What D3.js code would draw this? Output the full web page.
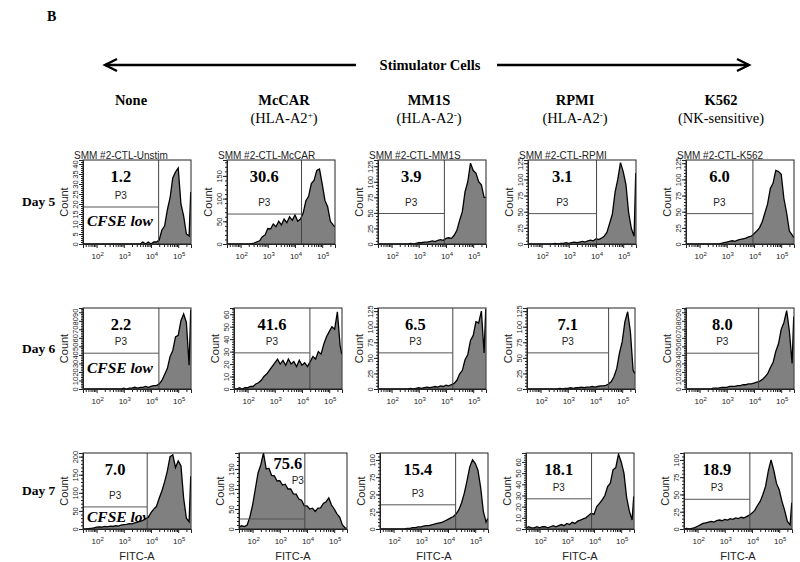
<!DOCTYPE html>
<html><head><meta charset="utf-8">
<script src="https://cdn.jsdelivr.net/npm/d3@7"></script>
<style>body{margin:0;background:#fff}svg{display:block}</style>
</head><body>
<svg id="c" width="800" height="562"></svg>
<script>
// ---------- DATA ----------
const columnNames = ["None", "McCAR", "MM1S", "RPMI", "K562"];
const columnSubs = [null, ["(HLA-A2", "+", ")"], ["(HLA-A2", "-", ")"], ["(HLA-A2", "-", ")"], ["(NK-sensitive)", "", ""]];
const dayLabels = ["Day 5", "Day 6", "Day 7"];
const panelTitles = ["SMM #2-CTL-Unstim", "SMM #2-CTL-McCAR", "SMM #2-CTL-MM1S", "SMM #2-CTL-RPMI", "SMM #2-CTL-K562"];
const gatePercents = [["1.2", "30.6", "3.9", "3.1", "6.0"], ["2.2", "41.6", "6.5", "7.1", "8.0"], ["7.0", "75.6", "15.4", "18.1", "18.9"]];
const gateName = "P3";
// log10 FITC-A bin positions (last = off-scale edge bin)
const binLog = [1.5,1.6,1.7,1.8,1.9,2.0,2.1,2.2,2.3,2.4,2.5,2.6,2.7,2.8,2.9,3.0,3.1,3.2,3.3,3.4,3.5,3.6,3.7,3.8,3.9,4.0,4.1,4.2,4.3,4.4,4.5,4.6,4.7,4.8,4.9,5.0,5.1,5.2,5.3,5.4,5.46];
// counts per panel
const d5None  = [0,0,0,0,0,0,0,0,0,0, 0,0,0,0,0,0,0,0,0,0, 0,0,1,0,1,0,1,1,2,7, 9,17,23,33,36,38,20,14,5,4, 26];
const d5McCAR = [0,0,0,0,0,0,0,0,0,1, 2,5,7,16,20,34,33,44,38,50, 42,55,47,60,52,64,50,55,68,95, 105,133,140,162,165,132,96,82,50,42, 38];
const d5MM1S  = [0,0,0,0,0,0,0,0,0,0, 0,0,1,0,1,2,2,3,3,4, 5,4,6,7,6,9,10,9,14,22, 38,52,84,100,130,118,114,100,95,75, 75];
const d5RPMI  = [0,0,0,0,0,0,0,0,0,0, 1,0,1,1,2,1,2,3,2,3, 4,3,5,6,5,8,7,9,12,18, 32,46,80,100,126,112,92,48,24,12, 110];
const d5K562  = [0,0,0,0,0,0,0,0,0,0, 0,0,0,1,2,3,4,5,4,6, 7,8,9,11,12,16,20,25,34,48, 62,86,94,114,112,108,70,48,20,14, 10];
const d6None  = [0,0,0,0,0,0,0,0,0,0, 0,0,0,0,0,1,0,1,1,2, 1,2,2,3,2,3,4,4,6,10, 17,24,38,45,61,63,80,88,78,28, 93];
const d6McCAR = [0,0,1,0,1,1,2,2,4,5, 7,10,12,15,18,21,24,20,23,19, 24,20,22,18,23,19,21,18,22,26, 24,30,28,36,42,46,50,48,62,35, 28];
const d6MM1S  = [0,0,0,0,0,0,0,0,0,0, 0,0,1,0,1,2,1,2,3,2, 3,4,3,5,4,6,5,7,9,14, 24,30,47,55,78,86,108,106,125,58, 128];
const d6RPMI  = [0,0,0,0,0,0,0,0,0,0, 0,0,1,0,1,1,2,1,2,2, 3,2,3,3,4,3,4,5,5,6, 8,12,20,33,58,76,108,124,92,30, 25];
const d6K562  = [0,0,0,0,0,0,0,0,0,0, 1,1,1,2,2,2,3,3,3,4, 4,5,5,6,6,7,8,9,11,14, 18,25,31,44,53,70,78,92,68,30, 85];
const d7None  = [0,0,1,2,3,5,6,5,7,6, 8,7,9,8,11,12,13,15,14,17, 19,21,24,28,32,45,55,62,85,105, 130,160,200,205,170,188,175,85,30,20, 146];
const d7McCAR = [5,8,6,10,30,60,100,140,160,190, 150,152,134,133,120,121,110,112,100,100, 88,87,75,72,58,58,50,52,44,52, 53,64,68,78,60,50,38,30,10,3, 2];
const d7MM1S  = [0,0,0,0,0,0,0,0,0,0, 1,1,2,2,3,3,4,5,5,6, 7,8,9,10,12,14,16,18,22,28, 38,52,70,90,100,95,85,60,25,10, 15];
const d7RPMI  = [1,2,1,1,2,1,2,2,1,2, 3,2,3,4,3,5,4,6,5,7, 8,9,10,12,14,13,20,23,26,30, 38,41,53,55,67,60,50,28,16,8, 29];
const d7K562  = [0,1,0,1,2,4,6,8,9,10, 11,10,12,13,12,14,13,15,14,16, 15,17,16,18,20,23,27,34,40,50, 62,84,100,85,66,57,40,27,11,6, 38];
const counts = [[d5None, d5McCAR, d5MM1S, d5RPMI, d5K562], [d6None, d6McCAR, d6MM1S, d6RPMI, d6K562], [d7None, d7McCAR, d7MM1S, d7RPMI, d7K562]];
// y axis maxima and tick labels
const yMax = [[42, 185, 135, 130, 130], [95, 65, 130, 130, 95], [210, 190, 110, 68, 110]];
const yTicks = [
  [[0,5,10,15,20,25,30,35,40], [0,50,100,150], [0,25,50,75,100,125], [0,25,50,75,100,125], [0,25,50,75,100,125]],
  [[0,10,20,30,40,50,60,70,80,90], [0,10,20,30,40,50,60], [0,25,50,75,100,125], [0,25,50,75,100,125], [0,10,20,30,40,50,60,70,80,90]],
  [[0,50,100,150,200], [0,50,100,150], [0,25,50,75,100], [0,10,20,30,40,50,60], [0,25,50,75,100]]
];
// gate: vertical boundary (log10 FITC) and horizontal marker (count)
const gateLog = [[4.28, 4.24, 3.94, 4.02, 3.96], [4.29, 4.29, 4.25, 4.5, 4.17], [3.86, 3.92, 4.28, 3.91, 3.92]];
const gateCount = [[18.5, 66, 49, 47, 47], [42, 29, 58, 58, 42], [61, 25, 35, 27, 43]];
const xMajorExp = ["2", "3", "4", "5"];
const xLabel = "FITC-A", yLabel = "Count", lowLabel = "CFSE low";

// ---------- LAYOUT ----------
const SERIF = "'Liberation Serif','Times New Roman',serif";
const SANS = "'Liberation Sans',Arial,sans-serif";
const svg = d3.select("#c");
const W = 108;
const lefts = [[83, 227, 378, 528, 686], [83, 234, 378, 527, 686], [83, 239, 380, 526, 684]];
const tops = [160, 308, 453], bottoms = [244, 389, 529];
const xDomain = [1.5, 5.47];

// header
svg.append("text").attr("x", 47).attr("y", 21).text("B")
  .attr("font-family", SERIF).attr("font-weight", "bold").attr("font-size", 14);
const ay = 65;
const hdr = svg.append("g").attr("stroke", "#000").attr("stroke-width", 2.4).attr("fill", "none");
hdr.append("line").attr("x1", 105).attr("x2", 356).attr("y1", ay).attr("y2", ay);
hdr.append("polyline").attr("points", `117,${ay-6} 105,${ay} 117,${ay+6}`);
hdr.append("line").attr("x1", 497).attr("x2", 749).attr("y1", ay).attr("y2", ay);
hdr.append("polyline").attr("points", `737,${ay-6} 749,${ay} 737,${ay+6}`);
svg.append("text").attr("x", 430).attr("y", ay + 5).attr("text-anchor", "middle").text("Stimulator Cells")
  .attr("font-family", SERIF).attr("font-weight", "bold").attr("font-size", 14.5);

const headX = [131, 284, 429, 575, 721];
columnNames.forEach((n, c) => {
  svg.append("text").attr("x", headX[c]).attr("y", 105).attr("text-anchor", "middle").text(n)
    .attr("font-family", SERIF).attr("font-weight", "bold").attr("font-size", 14.5);
  const s = columnSubs[c];
  if (s) {
    const t = svg.append("text").attr("x", headX[c]).attr("y", 123).attr("text-anchor", "middle")
      .attr("font-family", SERIF).attr("font-size", 14.5);
    t.append("tspan").text(s[0]);
    if (s[1]) t.append("tspan").attr("dy", -5).attr("font-size", 9).text(s[1]);
    if (s[2]) t.append("tspan").attr("dy", s[1] ? 5 : 0).text(s[2]);
  }
});

dayLabels.forEach((d, r) => {
  svg.append("text").attr("x", 22).attr("y", (tops[r] + bottoms[r]) / 2 + 4).text(d)
    .attr("font-family", SERIF).attr("font-weight", "bold").attr("font-size", 13.5);
});

// minor tick positions (log10 of k*10^e)
const minorX = [];
for (let e = 1; e <= 5; e++) for (let k = 2; k <= 9; k++) {
  const v = e + Math.log10(k);
  if (v >= xDomain[0] && v <= xDomain[1]) minorX.push(v);
}

for (let r = 0; r < 3; r++) for (let c = 0; c < 5; c++) {
  const x0 = lefts[r][c], y0 = tops[r], y1 = bottoms[r];
  const x = d3.scaleLinear().domain(xDomain).range([x0, x0 + W]);
  const y = d3.scaleLinear().domain([0, yMax[r][c]]).range([y1, y0]);
  const g = svg.append("g");
  const cid = `clip${r}${c}`;
  svg.append("clipPath").attr("id", cid).append("rect").attr("x", x0).attr("y", y0).attr("width", W).attr("height", y1 - y0);

  const gx = x(gateLog[r][c]);
  const gy = y(gateCount[r][c]);

  if (c === 0) {
    const ly = [226, 373, 522][r];
    g.append("text").attr("x", x0 + 4).attr("y", ly).text(lowLabel)
      .attr("font-family", SERIF).attr("font-weight", "bold").attr("font-style", "italic").attr("font-size", 15.5);
  }

  const data = counts[r][c];
  const area = d3.area().x((d, i) => x(binLog[i])).y0(y1).y1(d => y(d));
  const line = d3.line().x((d, i) => x(binLog[i])).y(d => y(d));
  const hg = g.append("g").attr("clip-path", `url(#${cid})`);
  hg.append("path").attr("d", area(data)).attr("fill", "#808080");
  hg.append("path").attr("d", line(data)).attr("fill", "none").attr("stroke", "#000").attr("stroke-width", 1.3);

  // gate
  g.append("line").attr("x1", gx).attr("x2", gx).attr("y1", y0).attr("y2", y1).attr("stroke", "#444").attr("stroke-width", 1);
  g.append("line").attr("x1", x0).attr("x2", gx).attr("y1", gy).attr("y2", gy).attr("stroke", "#555").attr("stroke-width", 1);

  // frame
  g.append("rect").attr("x", x0).attr("y", y0).attr("width", W).attr("height", y1 - y0)
    .attr("fill", "none").attr("stroke", "#222").attr("stroke-width", 1);

  // gate labels
  let nx = (x0 + gx) / 2, ny = y0 + 22, px = (x0 + gx) / 2, py = gy - 8;
  if (r === 2 && c === 1) { nx = gx - 17; ny = y0 + 16; px = gx - 7; py = y0 + 31; }
  g.append("text").attr("x", nx).attr("y", ny).attr("text-anchor", "middle").text(gatePercents[r][c])
    .attr("font-family", SERIF).attr("font-weight", "bold").attr("font-size", 16.5);
  g.append("text").attr("x", px).attr("y", py).attr("text-anchor", "middle").text(gateName)
    .attr("font-family", SANS).attr("font-size", 10).attr("fill", "#222");

  // x axis
  const xa = g.append("g").attr("transform", `translate(0,${y1})`);
  xa.call(d3.axisBottom(x).tickValues(minorX).tickSize(3).tickFormat("")).call(s => s.select(".domain").remove());
  const xb = g.append("g").attr("transform", `translate(0,${y1})`);
  xb.call(d3.axisBottom(x).tickValues(xMajorExp.map(Number)).tickSize(4).tickFormat(""));
  xb.select(".domain").attr("stroke", "#222");
  xMajorExp.forEach(e => {
    const t = g.append("text").attr("x", x(+e) + 1).attr("y", y1 + 15).attr("text-anchor", "middle")
      .attr("font-family", SANS).attr("font-size", 8).attr("fill", "#222");
    t.append("tspan").text("10");
    t.append("tspan").attr("dy", -3).attr("font-size", 6).text(e);
  });
  if (r === 2) {
    g.append("text").attr("x", x0 + W / 2).attr("y", y1 + 31).attr("text-anchor", "middle").text(xLabel)
      .attr("font-family", SANS).attr("font-size", 11).attr("fill", "#222");
  }

  // y axis
  const tk = yTicks[r][c];
  const step = tk[1] - tk[0];
  const minorY = [];
  for (let v = 0; v <= yMax[r][c]; v += step / 5) minorY.push(v);
  const ya = g.append("g").attr("transform", `translate(${x0},0)`);
  ya.call(d3.axisLeft(y).tickValues(minorY).tickSize(2).tickFormat("")).call(s => s.select(".domain").remove());
  const yb = g.append("g").attr("transform", `translate(${x0},0)`);
  yb.call(d3.axisLeft(y).tickValues(tk).tickSize(4));
  yb.select(".domain").attr("stroke", "#222");
  g.selectAll(".tick line").attr("stroke", "#222");
  yb.selectAll("text").attr("transform", "rotate(-90)").attr("x", 0).attr("y", -5).attr("dy", 0)
    .attr("text-anchor", "middle").attr("font-family", SANS).attr("font-size", 7.5).attr("fill", "#222");

  g.append("text").attr("transform", `translate(${x0 - 15},${(y0 + y1) / 2}) rotate(-90)`)
    .attr("text-anchor", "middle").text(yLabel).attr("font-family", SANS).attr("font-size", 11).attr("fill", "#222");

  if (r === 0) {
    g.append("text").attr("x", x0 - 9).attr("y", y0 - 1).text(panelTitles[c])
      .attr("font-family", SANS).attr("font-size", 10).attr("fill", "#222");
  }
}
</script>
</body></html>
